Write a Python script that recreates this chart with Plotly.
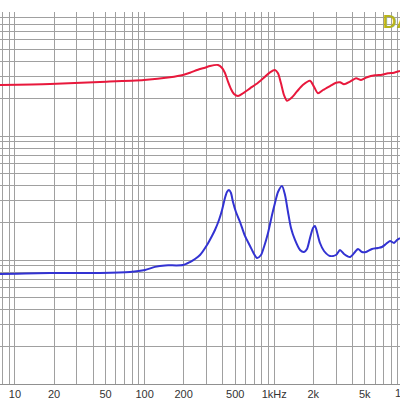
import plotly.graph_objects as go

# Values (log frequency axis, log value axis 1..1000)
red_freq = [7.66, 18.63, 45.29, 98.95, 157.0, 197.8, 224, 267.6, 292.4, 319.6, 368.5,
            396, 417, 440, 464, 489.7, 525.6, 574.5, 651, 750, 849, 928, 1014, 1070,
            1128, 1190, 1256, 1348, 1494, 1662, 1889, 2028, 2178, 2380, 2696, 2999,
            3219, 3456, 3845, 4278, 4676, 5200, 5996, 6788, 7553, 8404, 9348]
red_vals = [257.8, 262.7, 272.6, 282.9, 297.5, 310.4, 324.0, 347.0, 355.5, 366.9, 373.8,
            353.5, 322.2, 274.1, 239.3, 218.2, 210.2, 221.1, 242.4, 269.1, 300.8, 326.4,
            340.7, 320.4, 266.1, 214.1, 192.6, 201.4, 227.7, 257.8, 279.2, 249.7, 221.1,
            235.0, 253.0, 269.1, 271.1, 261.2, 274.1, 292.0, 282.9, 297.5, 308.7, 312.2,
            320.4, 324.0, 334.4]

blue_freq = [7.66, 18.63, 45.29, 77.2, 100.7, 120.3, 143.7, 197.8, 224, 244.8, 267.6,
             303, 331, 349, 375, 396, 417, 432, 448, 464, 481, 507, 545, 595, 651, 699,
             737, 791, 834, 896, 962, 1014, 1070, 1149, 1212, 1278, 1348, 1447, 1582,
             1698, 1791, 1889, 1993, 2064, 2139, 2256, 2423, 2696, 2999, 3219, 3456,
             3845, 4202, 4433, 4760, 5109, 5683, 6323, 6788, 7291, 7827, 8404, 8862, 9348]
blue_vals = [7.71, 7.86, 7.86, 8.0, 8.3, 8.8, 9.05, 9.1, 9.63, 10.19, 10.97,
             13.21, 15.62, 17.46, 21.02, 25.31, 31.62, 35.35, 36.69, 34.70, 29.36, 24.38,
             20.25, 15.62, 12.97, 11.18, 10.38, 10.97, 12.73, 16.51, 23.06, 28.82, 35.35,
             39.54, 33.44, 24.38, 18.12, 14.50, 12.04, 11.60, 12.27, 15.04, 18.12, 18.80,
             16.82, 13.71, 11.82, 10.77, 10.97, 12.04, 11.18, 10.58, 11.60, 12.27, 11.60,
             11.60, 12.27, 12.50, 12.73, 13.46, 14.23, 13.71, 14.50, 15.04]

x_tick_vals = [10, 20, 50, 100, 200, 500, 1000, 2000, 5000]
x_tick_text = ["10", "20", "50", "100", "200", "500", "1kHz", "2k", "5k"]
x_range = [0.8843, 3.9707]
y_range = [0, 3]

minor_x = [m * 10 ** d for d in range(0, 5) for m in range(1, 10)]
grid_y = [m * 10 ** d for d in range(0, 3) for m in range(1, 10)] + [1000]

fig = go.Figure()
fig.add_trace(go.Scatter(x=red_freq, y=red_vals, mode="lines",
                         line=dict(color="#e8183c", width=2, shape="spline", smoothing=0.7),
                         showlegend=False, hoverinfo="skip"))
fig.add_trace(go.Scatter(x=blue_freq, y=blue_vals, mode="lines",
                         line=dict(color="#3232d2", width=2, shape="spline", smoothing=0.7),
                         showlegend=False, hoverinfo="skip"))

grid_col = "#a0a0a0"
fig.update_layout(
    width=400, height=400,
    margin=dict(l=0, r=0, t=12, b=16),
    paper_bgcolor="white", plot_bgcolor="white",
    font=dict(family="Liberation Sans, Arial, sans-serif", size=11, color="#333333"),
    xaxis=dict(type="log", range=x_range, tickmode="array",
               tickvals=x_tick_vals, ticktext=x_tick_text,
               showgrid=True, gridcolor=grid_col, gridwidth=1,
               minor=dict(tickmode="array", tickvals=minor_x, showgrid=True,
                          gridcolor=grid_col, gridwidth=1, ticks=""),
               ticks="", zeroline=False, showline=True, linecolor="#909090",
               tickfont=dict(size=11, color="#333333")),
    yaxis=dict(type="log", range=y_range, tickmode="array", tickvals=grid_y,
               showticklabels=False, showgrid=True, gridcolor=grid_col, gridwidth=1,
               ticks="", zeroline=False, showline=False),
)

# partially visible 10k label at right edge
px10k = (4 - x_range[0]) / (x_range[1] - x_range[0])
fig.add_annotation(x=px10k, xref="paper", y=0, yref="paper", yanchor="top", yshift=-1,
                   text="10k", showarrow=False, xanchor="center",
                   font=dict(size=11, color="#333333"))
fig.add_annotation(x=382 / 400, xref="paper", y=1 - 10 / 372, yref="paper",
                   text="<b>DATS</b>", showarrow=False, xanchor="left", yanchor="middle",
                   borderpad=0,
                   font=dict(size=19, color="#b4b41e", family="Liberation Sans, Arial"))

fig.write_html("out.html")
